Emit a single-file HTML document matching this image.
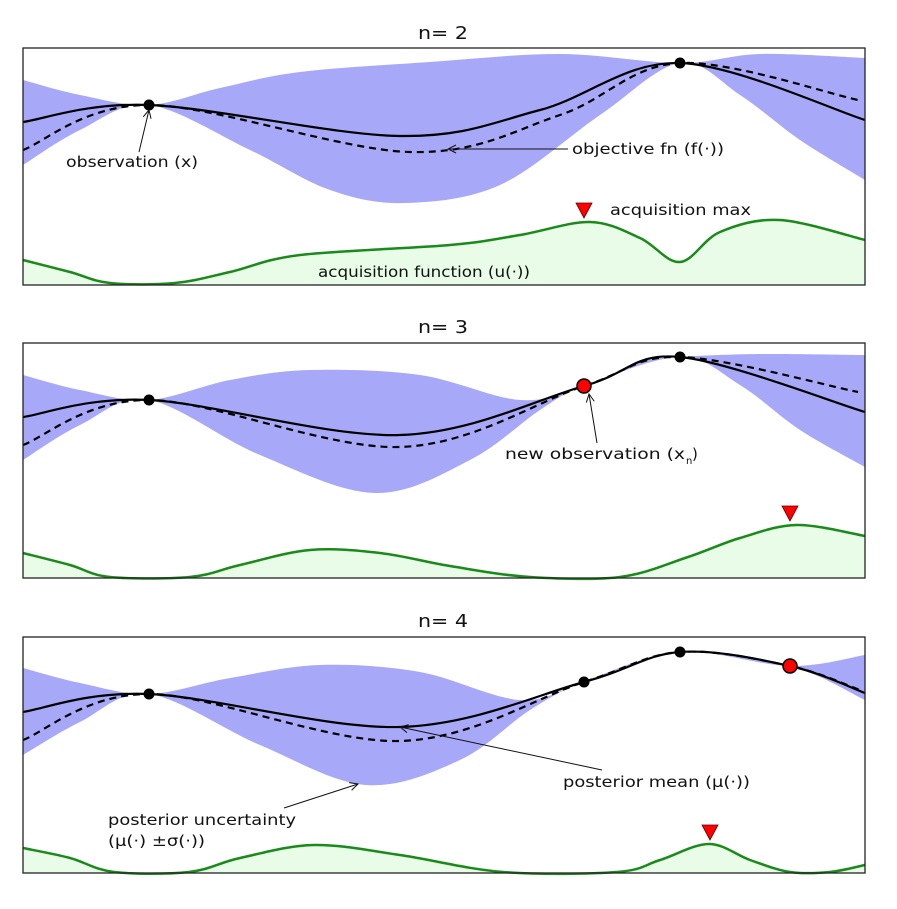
<!DOCTYPE html>
<html><head><meta charset="utf-8"><style>
html,body{margin:0;padding:0;background:#fff}
svg{display:block}
text{font-family:"DejaVu Sans","Liberation Sans",sans-serif;fill:#111}
</style></head><body>
<svg id="s" width="897" height="909" viewBox="0 0 897 909" xmlns="http://www.w3.org/2000/svg">
<defs><marker id="ah" markerWidth="10" markerHeight="10" refX="9" refY="5" orient="auto" markerUnits="userSpaceOnUse"><path d="M1,1 L9,5 L1,9" fill="none" stroke="#111" stroke-width="1"/></marker></defs>
<g id="g"></g>
<text x="418" y="39" font-size="18" textLength="50" lengthAdjust="spacingAndGlyphs">n= 2</text>
<text x="418" y="333" font-size="18" textLength="50" lengthAdjust="spacingAndGlyphs">n= 3</text>
<text x="418" y="627" font-size="18" textLength="50" lengthAdjust="spacingAndGlyphs">n= 4</text>
<text x="66" y="167" font-size="15" textLength="132" lengthAdjust="spacingAndGlyphs">observation (x)</text>
<text x="572" y="154" font-size="15" textLength="152" lengthAdjust="spacingAndGlyphs">objective fn (f(·))</text>
<text x="610" y="215" font-size="15" textLength="141" lengthAdjust="spacingAndGlyphs">acquisition max</text>
<text x="318" y="277" font-size="15" textLength="212" lengthAdjust="spacingAndGlyphs">acquisition function (u(·))</text>
<text x="505" y="459" font-size="15" textLength="180" lengthAdjust="spacingAndGlyphs">new observation (x</text><text x="686" y="464" font-size="10">n</text><text x="692" y="459" font-size="15">)</text>
<text x="563" y="787" font-size="15" textLength="187" lengthAdjust="spacingAndGlyphs">posterior mean (μ(·))</text>
<text x="108" y="825" font-size="15" textLength="188" lengthAdjust="spacingAndGlyphs">posterior uncertainty</text>
<text x="108" y="846" font-size="15" textLength="97" lengthAdjust="spacingAndGlyphs">(μ(·) ±σ(·))</text>
</svg>
<script>
function cr(p){let d="M"+p[0][0]+","+p[0][1];for(let i=0;i<p.length-1;i++){const a=p[i-1]||p[i],b=p[i],c=p[i+1],e=p[i+2]||c;d+=" C"+(b[0]+(c[0]-a[0])/6)+","+(b[1]+(c[1]-a[1])/6)+" "+(c[0]-(e[0]-b[0])/6)+","+(c[1]-(e[1]-b[1])/6)+" "+c[0]+","+c[1];}return d;}
function crRev(p){return cr(p.slice().reverse()).replace(/^M/," L");}
const P=[
{top:48,bot:285,
up:[[23,80],[80,95],[149,105],[220,88],[300,72],[430,62],[560,54],[680,63],[760,54],[865,58]],
lo:[[23,165],[80,130],[149,105],[250,150],[330,190],[405,203],[500,185],[600,115],[680,63],[740,95],[800,140],[865,180]],
mu:[[23,122],[149,105],[400,136],[540,110],[680,63],[865,120]],
f:[[23,150],[149,105],[410,152],[560,115],[680,63],[858,100]],
ac:[[23,260],[70,272],[110,283],[175,283],[230,272],[300,255],[450,245],[520,235],[590,222],[640,238],[680,262],[720,232],[780,220],[865,240]],
pts:[[149,105,0],[680,63,0]],tri:[584,210]},
{top:343,bot:578,
up:[[23,375],[80,390],[149,400],[230,380],[310,370],[420,375],[520,400],[584,386],[640,362],[680,357],[760,354],[865,355]],
lo:[[23,460],[80,425],[149,400],[260,455],[375,493],[470,460],[540,410],[584,386],[680,357],[740,385],[800,430],[865,467]],
mu:[[23,417],[149,400],[400,435],[584,386],[680,357],[865,412]],
f:[[23,445],[149,400],[400,447],[584,386],[680,357],[858,392]],
ac:[[23,553],[70,565],[110,577],[190,577],[240,565],[310,550],[380,553],[450,566],[530,577],[620,577],[688,557],[740,538],[797,525],[865,536]],
pts:[[149,400,0],[680,357,0],[584,386,1]],tri:[790,513]},
{top:637,bot:873,
up:[[23,668],[80,683],[149,694],[230,678],[320,665],[420,672],[520,700],[584,682],[680,652],[790,666],[865,655]],
lo:[[23,755],[80,722],[149,694],[260,745],[366,785],[460,760],[530,710],[584,682],[680,652],[790,666],[865,700]],
mu:[[23,712],[149,694],[400,727],[584,682],[680,652],[790,666],[865,693]],
f:[[23,740],[149,694],[400,741],[584,682],[680,652],[790,666],[860,690]],
ac:[[23,848],[70,858],[114,872],[189,872],[240,858],[314,845],[400,855],[503,872],[617,872],[660,860],[709,844],[750,860],[790,872],[830,872],[865,865]],
pts:[[149,694,0],[584,682,0],[680,652,0],[790,666,1]],tri:[710,832]}];
let h="";
for(const q of P){
h+=`<path d="${cr(q.ac)} L865,${q.bot} L23,${q.bot} Z" fill="#e8fce8"/>`;
h+=`<path d="${cr(q.up)}${crRev(q.lo)} Z" fill="#a8a8f8"/>`;
h+=`<path d="${cr(q.f)}" fill="none" stroke="#000" stroke-width="2.2" stroke-dasharray="7,5"/>`;
h+=`<path d="${cr(q.mu)}" fill="none" stroke="#000" stroke-width="2.2"/>`;
h+=`<path d="${cr(q.ac)}" fill="none" stroke="#1a8a1a" stroke-width="2.5"/>`;
for(const p of q.pts){h+=p[2]?`<circle cx="${p[0]}" cy="${p[1]}" r="7" fill="#f00" stroke="#000" stroke-width="1.5"/>`:`<circle cx="${p[0]}" cy="${p[1]}" r="5.5" fill="#000"/>`;}
const t=q.tri;h+=`<path d="M${t[0]-8},${t[1]-7} L${t[0]+8},${t[1]-7} L${t[0]},${t[1]+8} Z" fill="#f00" stroke="#600" stroke-width="0.8"/>`;
h+=`<rect x="23" y="${q.top}" width="842" height="${q.bot-q.top}" fill="none" stroke="#222" stroke-width="1.3"/>`;
}
h+=`<line x1="139" y1="152" x2="149" y2="110" stroke="#111" stroke-width="1" marker-end="url(#ah)"/>`;
h+=`<line x1="568" y1="149" x2="448" y2="149" stroke="#111" stroke-width="1" marker-end="url(#ah)"/>`;
h+=`<line x1="597" y1="443" x2="589" y2="394" stroke="#111" stroke-width="1" marker-end="url(#ah)"/>`;
h+=`<line x1="602" y1="770" x2="400" y2="727" stroke="#111" stroke-width="1" marker-end="url(#ah)"/>`;
h+=`<line x1="284" y1="808" x2="358" y2="784" stroke="#111" stroke-width="1" marker-end="url(#ah)"/>`;
document.getElementById("g").innerHTML=h;
</script>
</body></html>
